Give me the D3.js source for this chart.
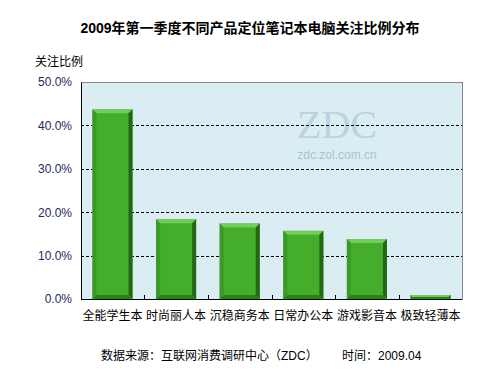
<!DOCTYPE html>
<html>
<head>
<meta charset="utf-8">
<script src="https://cdn.jsdelivr.net/npm/d3@7"></script>
<style>
body { margin: 0; background: #fff; }
text { font-family: "Liberation Sans", Arial, "Noto Sans CJK SC", sans-serif; }
</style>
</head>
<body>
<svg width="500" height="375"></svg>
<script>
const categories = ["全能学生本", "时尚丽人本", "沉稳商务本", "日常办公本", "游戏影音本", "极致轻薄本"];
const shares = [43.7, 18.4, 17.4, 15.7, 13.8, 0.9];
const yTicks = [0, 10, 20, 30, 40, 50];

const svg = d3.select("svg");
const plotL = 81, plotR = 462, plotT = 82, plotB = 299;

const x = d3.scaleBand().domain(categories).range([plotL, plotR]).paddingInner(0.37).paddingOuter(0.18);
const y = d3.scaleLinear().domain([0, 50]).range([plotB, plotT]);

// title
svg.append("text")
  .attr("x", 250).attr("y", 33)
  .attr("text-anchor", "middle")
  .attr("font-size", 14).attr("font-weight", "bold")
  .text("2009年第一季度不同产品定位笔记本电脑关注比例分布");

svg.append("text")
  .attr("x", 35).attr("y", 66)
  .attr("font-size", 12)
  .text("关注比例");

// plot background
svg.append("rect")
  .attr("x", plotL + 0.5).attr("y", plotT + 0.5)
  .attr("width", plotR - plotL).attr("height", plotB - plotT)
  .attr("fill", "#daedf3")
  .attr("stroke", "#888").attr("stroke-width", 1);

// watermark
svg.append("text")
  .attr("x", 337).attr("y", 138)
  .attr("text-anchor", "middle")
  .style("font-family", "'Liberation Serif', serif")
  .attr("font-size", 40)
  .attr("fill", "#bcd2e2")
  .text("ZDC");
svg.append("text")
  .attr("x", 337).attr("y", 159)
  .attr("text-anchor", "middle")
  .attr("font-size", 12)
  .attr("fill", "#a9c2d6")
  .text("zdc.zol.com.cn");

// grid lines
svg.append("g")
  .selectAll("line")
  .data(yTicks.filter(d => d > 0 && d < 50))
  .enter().append("line")
    .attr("x1", plotL).attr("x2", plotR)
    .attr("y1", d => Math.round(y(d)) + 0.5).attr("y2", d => Math.round(y(d)) + 0.5)
    .attr("stroke", "#000").attr("stroke-dasharray", "3,2");

// bars with bevel
const bev = 4;
const bars = svg.append("g").selectAll("g")
  .data(categories.map((c, i) => ({ c: c, v: shares[i] })))
  .enter().append("g");

bars.append("rect")
  .attr("x", d => x(d.c)).attr("y", d => y(d.v))
  .attr("width", x.bandwidth()).attr("height", d => plotB - y(d.v))
  .attr("fill", "#44ae2c");

function bevelPts(d, side) {
  const x0 = x(d.c), x1 = x0 + x.bandwidth();
  const y0 = y(d.v), y1 = plotB;
  const b = Math.min(bev, (y1 - y0) / 2);
  if (side === "top") return [[x0, y0], [x1, y0], [x1 - b, y0 + b], [x0 + b, y0 + b]];
  if (side === "left") return [[x0, y0], [x0 + b, y0 + b], [x0 + b, y1 - b], [x0, y1]];
  if (side === "right") return [[x1, y0], [x1, y1], [x1 - b, y1 - b], [x1 - b, y0 + b]];
  return [[x0, y1], [x0 + b, y1 - b], [x1 - b, y1 - b], [x1, y1]];
}
const bevelColors = { top: "#6fd14f", left: "#3a9a25", right: "#26661a", bottom: "#2f7d1f" };
["top", "left", "right", "bottom"].forEach(side => {
  bars.append("polygon")
    .attr("points", d => bevelPts(d, side).map(p => p.join(",")).join(" "))
    .attr("fill", bevelColors[side]);
});

// axes
const yAxis = svg.append("g")
  .attr("transform", `translate(${plotL},0)`)
  .call(d3.axisLeft(y).tickValues(yTicks).tickSize(0).tickPadding(9).tickFormat(d => d.toFixed(1) + "%"));
yAxis.select(".domain").attr("stroke", "#000");
yAxis.selectAll("text").attr("font-size", 12).attr("fill", "#1c2a5c")
  .attr("font-family", "Liberation Sans, Arial, sans-serif");

const xAxis = svg.append("g")
  .attr("transform", `translate(0,${plotB})`)
  .call(d3.axisBottom(x).tickSize(0).tickPadding(12));
xAxis.select(".domain").attr("stroke", "#000").attr("d", `M${plotL},0.5H${plotR}`);
xAxis.selectAll("text").attr("font-size", 12).attr("fill", "#000");

// category boundary ticks
const step = x.step();
svg.append("g").selectAll("line")
  .data(categories.slice(1))
  .enter().append("line")
    .attr("x1", d => Math.round(x(d) - (step - x.bandwidth()) / 2) + 0.5)
    .attr("x2", d => Math.round(x(d) - (step - x.bandwidth()) / 2) + 0.5)
    .attr("y1", plotB).attr("y2", plotB - 4)
    .attr("stroke", "#000");

// footer
svg.append("text")
  .attr("x", 101).attr("y", 360)
  .attr("font-size", 12)
  .text("数据来源：互联网消费调研中心（ZDC）");
svg.append("text")
  .attr("x", 342).attr("y", 360)
  .attr("font-size", 12)
  .text("时间：2009.04");
</script>
</body>
</html>
